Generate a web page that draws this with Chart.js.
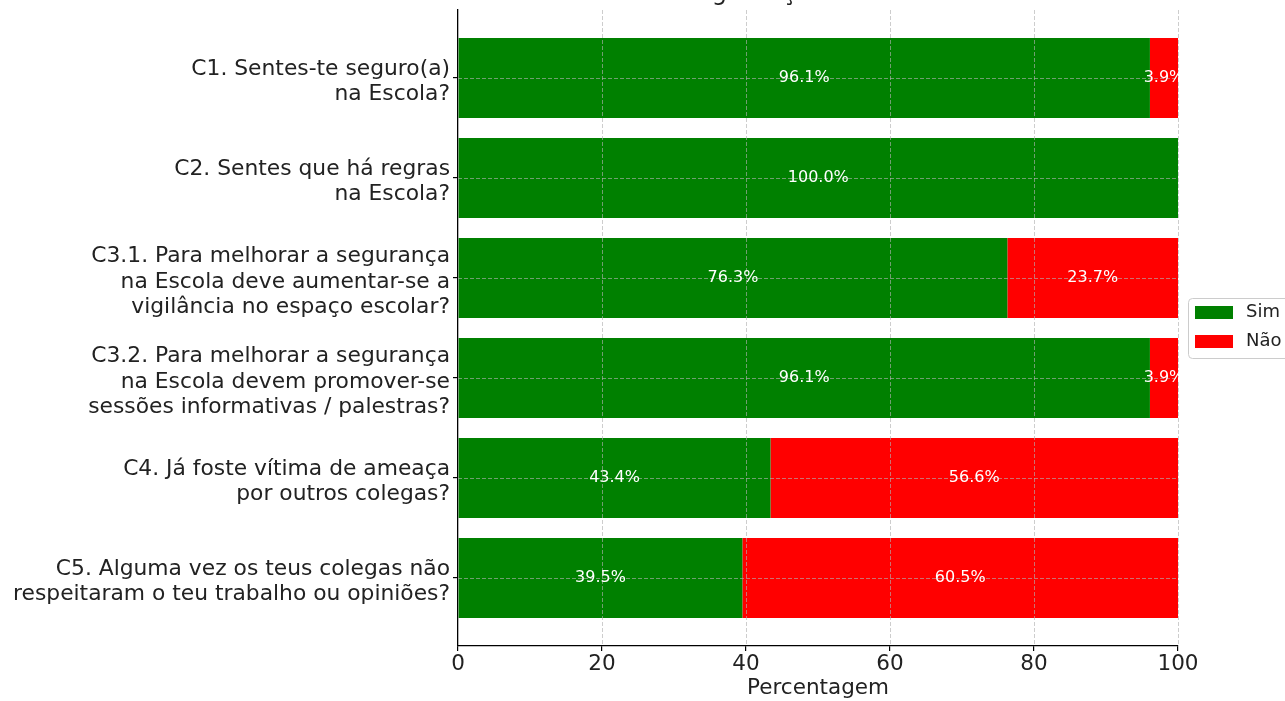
<!DOCTYPE html>
<html>
<head>
<meta charset="utf-8">
<script src="https://cdn.jsdelivr.net/npm/chart.js@4/dist/chart.umd.min.js"></script>
<style>
  body { margin: 0; background: #fff; }
  #wrap { width: 1285px; height: 701px; }
</style>
</head>
<body>
<div id="wrap"><canvas id="chart" width="1285" height="701"></canvas></div>
<script>
const questions = [
  ["C1. Sentes-te seguro(a)", "na Escola?"],
  ["C2. Sentes que há regras", "na Escola?"],
  ["C3.1. Para melhorar a segurança", "na Escola deve aumentar-se a", "vigilância no espaço escolar?"],
  ["C3.2. Para melhorar a segurança", "na Escola devem promover-se", "sessões informativas / palestras?"],
  ["C4. Já foste vítima de ameaça", "por outros colegas?"],
  ["C5. Alguma vez os teus colegas não", "respeitaram o teu trabalho ou opiniões?"]
];
const simValues = [96.1, 100.0, 76.3, 96.1, 43.4, 39.5];
const naoValues = [3.9, 0.0, 23.7, 3.9, 56.6, 60.5];
const xTicks = [0, 20, 40, 60, 80, 100];
const titleText = "Segurança Escolar";

const FONT = "'DejaVu Sans', sans-serif";

// grid over the bars, value labels, title and legend box
const overlay = {
  id: "overlay",
  beforeDraw(chart) {
    // nudge the multi-line category labels down a little
    const items = chart.scales.y.getLabelItems(chart.chartArea);
    items.forEach(it => { if (!it._moved) { it.options.translation[1] += 4; it._moved = true; } });
  },
  afterDatasetsDraw(chart) {
    const ctx = chart.ctx;
    const area = chart.chartArea;
    const xs = chart.scales.x, ys = chart.scales.y;
    ctx.save();
    ctx.strokeStyle = "rgba(176,176,176,0.8)";
    ctx.lineWidth = 0.8;
    ctx.setLineDash([4, 2]);
    xTicks.forEach(v => {
      if (v === 0) return;
      const px = Math.round(xs.getPixelForValue(v)) + 0.5;
      ctx.beginPath(); ctx.moveTo(px, area.top); ctx.lineTo(px, area.bottom); ctx.stroke();
    });
    questions.forEach((q, i) => {
      const py = Math.round(ys.getPixelForValue(i)) + 0.5;
      ctx.beginPath(); ctx.moveTo(area.left, py); ctx.lineTo(area.right, py); ctx.stroke();
    });
    ctx.setLineDash([]);

    // value labels
    ctx.fillStyle = "#ffffff";
    ctx.font = "16px " + FONT;
    ctx.textAlign = "center";
    ctx.textBaseline = "middle";
    chart.data.datasets.forEach((ds, di) => {
      const meta = chart.getDatasetMeta(di);
      meta.data.forEach((bar, i) => {
        const v = ds.data[i].x;
        if (!v) return;
        ctx.fillText(v.toFixed(1) + "%", (bar.x + bar.base) / 2, bar.y);
      });
    });

    // title (cut off at top)
    ctx.fillStyle = "#222";
    ctx.font = "24px " + FONT;
    ctx.textBaseline = "alphabetic";
    ctx.fillText(titleText, (area.left + area.right) / 2 - 25, 0);

    // legend
    const lx = 1188, ly = 298, lw = 110, lh = 60;
    ctx.fillStyle = "rgba(255,255,255,0.8)";
    ctx.strokeStyle = "#cccccc";
    ctx.lineWidth = 1;
    ctx.beginPath();
    ctx.roundRect(lx + 0.5, ly + 0.5, lw, lh, 4);
    ctx.fill(); ctx.stroke();
    ctx.font = "18px " + FONT;
    ctx.textAlign = "left";
    ctx.textBaseline = "middle";
    chart.data.datasets.forEach((ds, di) => {
      const cy = ly + 14 + di * 29;
      ctx.fillStyle = ds.backgroundColor;
      ctx.fillRect(lx + 7, cy - 6, 38, 13);
      ctx.fillStyle = "#222";
      ctx.fillText(ds.label, lx + 58, cy);
    });
    ctx.restore();
  }
};

new Chart(document.getElementById("chart"), {
  type: "bar",
  data: {
    datasets: [
      { label: "Sim", data: simValues.map((v, i) => ({ x: v, y: i })), backgroundColor: "#008000" },
      { label: "Não", data: naoValues.map((v, i) => ({ x: v, y: i })), backgroundColor: "#ff0000" }
    ]
  },
  options: {
    indexAxis: "y",
    responsive: false,
    animation: false,
    layout: { padding: { top: 10, right: 107, bottom: 0, left: 0 } },
    datasets: { bar: { categoryPercentage: 0.8, barPercentage: 1.0 } },
    plugins: { legend: { display: false }, tooltip: { enabled: false } },
    scales: {
      x: {
        type: "linear",
        stacked: true,
        min: 0,
        max: 100,
        afterBuildTicks: axis => { axis.ticks = xTicks.map(v => ({ value: v })); },
        afterFit: axis => { axis.height = 55; },
        grid: { drawOnChartArea: false, drawTicks: true, tickLength: 5, color: "#000", lineWidth: 1.2 },
        border: { display: true, color: "#000", width: 1.3 },
        ticks: { color: "#222", font: { family: FONT, size: 21.5 }, padding: 1, maxRotation: 0 },
        title: { display: true, text: "Percentagem", color: "#222", font: { family: FONT, size: 21.5 }, padding: 0 }
      },
      y: {
        type: "linear",
        stacked: true,
        reverse: true,
        offset: false,
        min: -0.68,
        max: questions.length - 1 + 0.68,
        afterBuildTicks: axis => { axis.ticks = questions.map((q, i) => ({ value: i })); },
        afterFit: axis => { axis.width = 458; axis.paddingTop = 0; axis.paddingBottom = 0; },
        grid: { offset: false, drawOnChartArea: false, drawTicks: true, tickLength: 5, color: "#000", lineWidth: 1.2 },
        border: { display: true, color: "#000", width: 1.3 },
        ticks: {
          color: "#222",
          font: { family: FONT, size: 21.8, lineHeight: 1.17 },
          padding: 3,
          callback: v => questions[v]
        }
      }
    }
  },
  plugins: [overlay]
});
</script>
</body>
</html>
